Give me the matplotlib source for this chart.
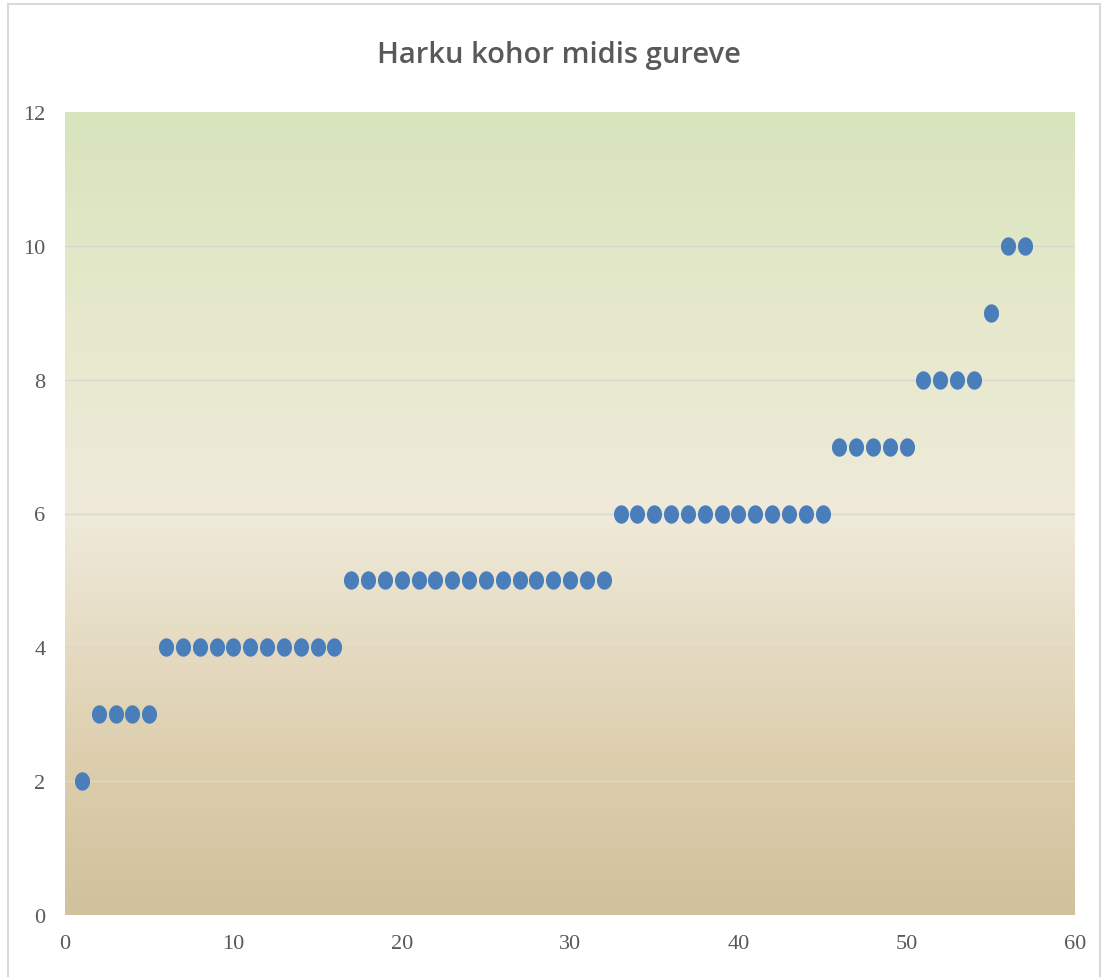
import numpy as np
import matplotlib.pyplot as plt
from matplotlib.path import Path
from matplotlib.colors import LinearSegmentedColormap
from matplotlib.patches import Rectangle

# Stepped values per index
x_vals = list(range(1, 58))
y_vals = ([2] + [3] * 4 + [4] * 11 + [5] * 16 + [6] * 13
          + [7] * 5 + [8] * 4 + [9] + [10] * 2)
x_ticks = [0, 10, 20, 30, 40, 50, 60]
y_ticks = [0, 2, 4, 6, 8, 10, 12]
title = "Harku kohor midis gureve"

fig = plt.figure(figsize=(11.03, 9.78), dpi=100)
fig.patch.set_facecolor("white")
# thin outer frame around the chart
fig.add_artist(Rectangle((0.007, -0.01), 0.99, 1.005, transform=fig.transFigure,
                         fill=False, edgecolor="#d9d9d9", linewidth=1.5))

ax = fig.add_axes([65 / 1103, 1 - 916 / 978, (1075 - 65) / 1103, (916 - 113) / 978])

# vertical gradient fill: green top, cream middle, tan bottom
cmap = LinearSegmentedColormap.from_list(
    "bg", [(0.0, "#d1c29d"), (0.18, "#dccdac"), (0.5, "#efeada"), (0.75, "#e6e9cc"), (1.0, "#d7e4bc")])
grad = np.linspace(0, 1, 256).reshape(-1, 1)
ax.imshow(grad, aspect="auto", cmap=cmap, origin="lower",
          extent=[0, 1, 0, 1], transform=ax.transAxes, zorder=0)

for yt in y_ticks[1:-1]:
    ax.axhline(yt, color="#d8d8d0", linewidth=1.0, zorder=1)

# slightly tall ellipse marker
theta = np.linspace(0, 2 * np.pi, 60)
ellipse = Path(np.column_stack([0.82 * np.cos(theta), np.sin(theta)]), closed=True)
ax.scatter(x_vals, y_vals, marker=ellipse, s=175, color="#4a7ebb", linewidths=0, zorder=3)

ax.set_xlim(0, 60)
ax.set_ylim(0, 12)
ax.set_xticks(x_ticks)
ax.set_yticks(y_ticks)
for s in ax.spines.values():
    s.set_visible(False)
ax.tick_params(length=0, labelsize=16, labelcolor="#595959")
ax.tick_params(axis="x", pad=14)
ax.tick_params(axis="y", pad=14)
for lab in ax.get_xticklabels() + ax.get_yticklabels():
    lab.set_family(["Liberation Serif", "DejaVu Serif"])

fig.text(559 / 1103, 1 - 55 / 978, title, ha="center", va="center", fontsize=21,
         fontweight="semibold", color="#595959",
         family=["Open Sans", "DejaVu Sans"])

fig.savefig("out.png", dpi=100)
